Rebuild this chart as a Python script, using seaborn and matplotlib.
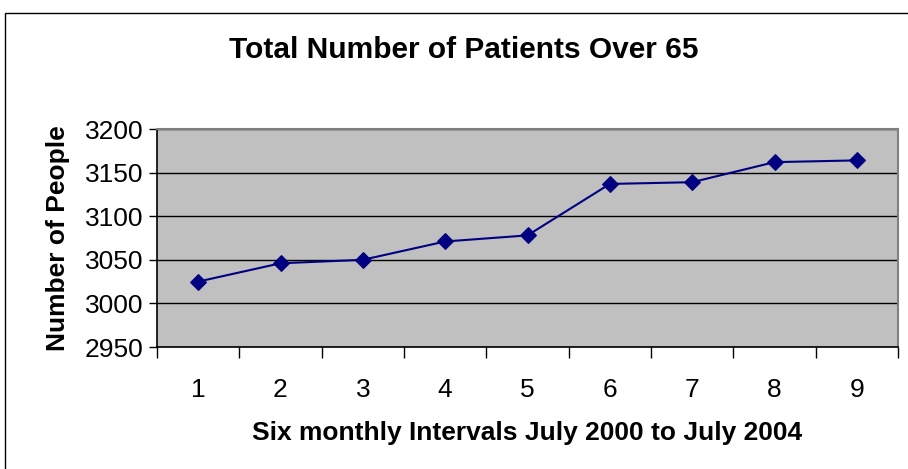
import matplotlib
matplotlib.use("Agg")
import matplotlib.pyplot as plt
import matplotlib.patches as mpatches
from matplotlib.ticker import FixedLocator, NullFormatter, FixedFormatter
import seaborn as sns
import pandas as pd

intervals = [1, 2, 3, 4, 5, 6, 7, 8, 9]
patients = [3025, 3046, 3050, 3071, 3078, 3137, 3139, 3162, 3164]
y_ticks = [2950, 3000, 3050, 3100, 3150, 3200]

sns.set_style("white")
plt.rcParams['font.family'] = ['Liberation Sans', 'DejaVu Sans']
plt.rcParams['text.color'] = 'black'
plt.rcParams['axes.labelcolor'] = 'black'
plt.rcParams['xtick.color'] = 'black'
plt.rcParams['ytick.color'] = 'black'

df = pd.DataFrame({"interval": intervals, "patients": patients})

W, H = 908, 469
fig = plt.figure(figsize=(W / 100, H / 100), dpi=100)
fig.patch.set_facecolor("white")

# outer chart border
fig.patches.append(mpatches.Rectangle((5 / W, -0.1), 1.1, (H - 13) / H + 0.1,
                                      transform=fig.transFigure, fill=False,
                                      edgecolor="black", linewidth=1.0))

left, right, top, bottom = 157, 898, 129, 347
ax = fig.add_axes([left / W, (H - bottom) / H, (right - left) / W, (bottom - top) / H])
ax.set_facecolor("#C0C0C0")

sns.lineplot(data=df, x="interval", y="patients", ax=ax, color="#000080",
             marker="D", markersize=8, markeredgecolor="#000080", linewidth=1.5)

ax.set_xlim(0.5, 9.5)
ax.set_ylim(2950, 3200)
ax.set_yticks(y_ticks)
ax.set_yticklabels([str(v) for v in y_ticks])
ax.yaxis.grid(True, color="black", linewidth=1.0)
ax.set_axisbelow(True)

ax.xaxis.set_major_locator(FixedLocator([i + 0.5 for i in range(0, 10)]))
ax.xaxis.set_major_formatter(NullFormatter())
ax.xaxis.set_minor_locator(FixedLocator(intervals))
ax.xaxis.set_minor_formatter(FixedFormatter([str(i) for i in intervals]))
ax.tick_params(axis="x", which="major", direction="out", length=8, width=1, color="black", bottom=True)
ax.tick_params(axis="x", which="minor", length=0, pad=22, labelsize=19, labelcolor="black")
ax.tick_params(axis="y", direction="out", length=6, width=1, color="black", left=True,
               labelsize=19, pad=4, labelcolor="black")

for s in ["left", "bottom"]:
    ax.spines[s].set_color("black")
    ax.spines[s].set_linewidth(1.2)
for s in ["top", "right"]:
    ax.spines[s].set_color("#808080")
    ax.spines[s].set_linewidth(1.5)

ax.set_xlabel("Six monthly Intervals July 2000 to July 2004", fontsize=19, fontweight="bold",
              labelpad=14, color="black")
ax.set_ylabel("Number of People", fontsize=19, fontweight="bold", labelpad=10, color="black")

fig.text(464 / W, 1 - 50 / H, "Total Number of Patients Over 65", ha="center", va="center",
         fontsize=21.5, fontweight="bold", color="black")

fig.savefig("out.png", dpi=100)
